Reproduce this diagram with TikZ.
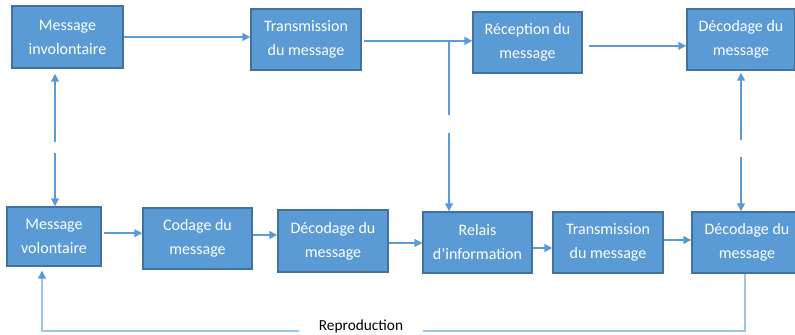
\documentclass[tikz,border=0pt]{standalone}
\usepackage{fontspec}
\setmainfont{Carlito}
\usetikzlibrary{arrows.meta}
\definecolor{boxfill}{HTML}{5B9BD5}
\definecolor{boxline}{HTML}{41719C}
\definecolor{conn}{HTML}{5B9BD5}
\definecolor{fb}{HTML}{9DC3E6}
\begin{document}
\begin{tikzpicture}[x=0.75pt,y=-0.75pt,
  box/.style={draw=boxline, line width=1.1pt, fill=boxfill, text=white, align=center,
    inner sep=0pt, font=\fontsize{12}{18}\selectfont},
  arr/.style={draw=conn, line width=1.1pt, -{Triangle[length=6pt,width=6pt]}},
  ln/.style={draw=conn, line width=1.1pt},
  fbl/.style={draw=fb, line width=1pt}]
\useasboundingbox (0,0) rectangle (795,335);

% top row
\node[box, minimum width=83.25pt, minimum height=46.5pt] (minvol) at (67.5,37) {Message\\involontaire};
\node[box, minimum width=82.5pt, minimum height=45.75pt] (trans1) at (306,39.5) {Transmission\\du message};
\node[box, minimum width=81.75pt, minimum height=45.75pt] (recep) at (527.5,42.5) {Réception du\\message};
\node[box, minimum width=81pt, minimum height=45.75pt] (dectop) at (741,39.5) {Décodage du\\message};

% bottom row
\node[box, minimum width=70.5pt, minimum height=44.25pt] (mvol) at (54,236.5) {Message\\volontaire};
\node[box, minimum width=81.75pt, minimum height=45.75pt] (codage) at (197.5,238.5) {Codage du\\message};
\node[box, minimum width=82.5pt, minimum height=46.5pt] (dec2) at (333,241) {Décodage du\\message};
\node[box, minimum width=81.75pt, minimum height=45.75pt] (relais) at (477.5,242.5) {Relais\\d’information};
\node[box, minimum width=82.5pt, minimum height=45.75pt] (trans2) at (608,242.5) {Transmission\\du message};
\node[box, minimum width=82.5pt, minimum height=45.75pt] (decbr) at (747,242.5) {Décodage du\\message};

% top connectors
\draw[arr] (minvol.east) -- (trans1.west |- minvol.east);
\draw[arr] ([xshift=1.5pt,yshift=-1pt]trans1.east) -- ([yshift=-1pt]recep.west |- trans1.east);
\draw[arr] ([xshift=4.5pt,yshift=-2.5pt]recep.east) -- ([yshift=-2.5pt]dectop.west |- recep.east);

% branch to relais
\coordinate (j1) at (449,40.5);
\coordinate (g1) at (449,115);
\coordinate (g2) at (449,133);
\draw[ln] (j1) -- (g1);
\draw[arr] (g2) -- (g2 |- relais.north);

% left double arrow
\coordinate (a1) at (55,142);
\coordinate (a2) at (55,153);
\draw[arr] (a1) -- ([yshift=-3.75pt]a1 |- minvol.south);
\draw[arr] (a2) -- (a2 |- mvol.north);

% right double arrow
\coordinate (b1) at (741,140);
\coordinate (b2) at (741,157);
\draw[arr] (b1) -- ([yshift=-1.5pt]b1 |- dectop.south);
\draw[arr] (b2) -- (b2 |- decbr.north);

% bottom connectors
\draw[arr] ([xshift=2pt,yshift=2.5pt]mvol.east) -- ([yshift=2.5pt]codage.west |- mvol.east);
\draw[arr] (codage.east |- 0,235) -- (dec2.west |- 0,235);
\draw[arr] (dec2.east |- 0,243) -- (relais.west |- 0,243);
\draw[arr] (relais.east |- 0,248) -- (trans2.west |- 0,248);
\draw[arr] (trans2.east |- 0,240) -- (decbr.west |- 0,240);

% feedback
\node[anchor=base, inner xsep=15pt, inner ysep=0pt, font=\fontsize{11.5}{13}\selectfont] (repro) at (361,330.5) {Reproduction};
\coordinate (fbR) at (745,331);
\coordinate (fbL) at (42,331);
\draw[fbl] (fbR |- decbr.south) -- (fbR) -- (fbR -| repro.east);
\draw[fbl, -{Triangle[length=6pt,width=6pt,fill=conn,color=conn]}] (fbL -| repro.west) -- (fbL) -- ([yshift=-3pt]fbL |- mvol.south);
\end{tikzpicture}
\end{document}
